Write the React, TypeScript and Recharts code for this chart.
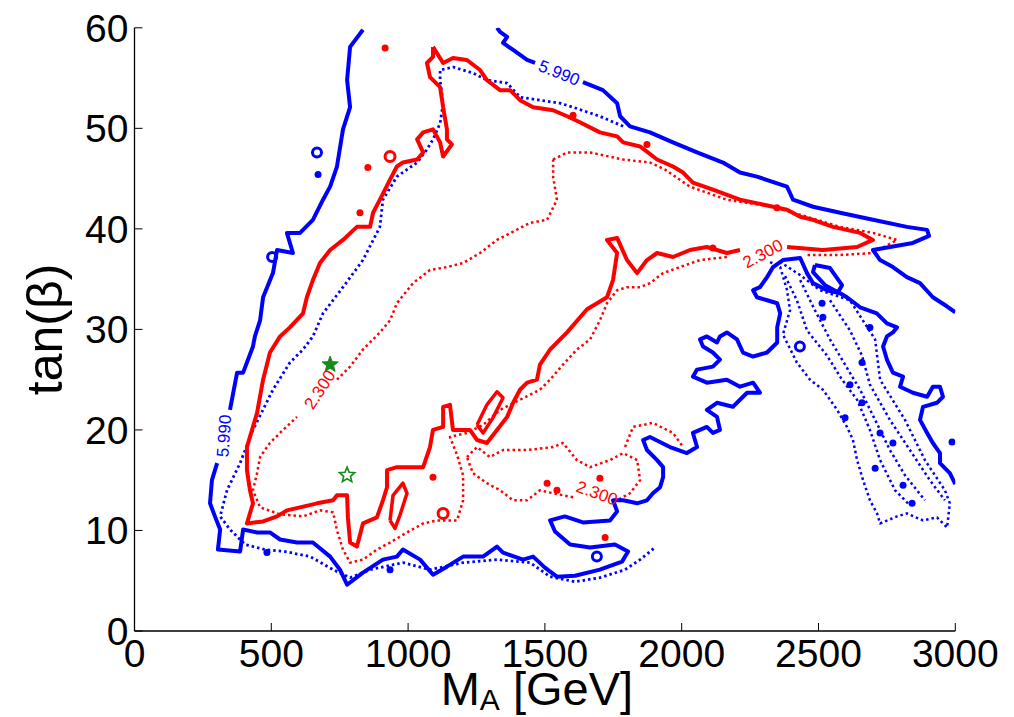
import React from 'react';
import { ComposedChart, Line, Scatter, XAxis, YAxis, ReferenceDot } from 'recharts';

const BLUE = '#0000ff';
const RED = '#ff0000';
const GREEN = '#178a17';
const FONT = '"Liberation Sans", Arial, Helvetica, sans-serif';

const xTicks = [0, 500, 1000, 1500, 2000, 2500, 3000];
const yTicks = [0, 10, 20, 30, 40, 50, 60];

// contour traces in (M_A [GeV], tan beta); null y = gap left for a contour label
const blueOuter = [
  [835, 59.8], [788, 58.1], [777, 54.8], [788, 52.1], [762, 49.9], [740, 46.2], [715, 44.2], [689, 42.9],
  [652, 40.9], [605, 39.6], [557, 39.6], [579, 37.6], [521, 37.9], [506, 35.6], [470, 33.2], [459, 30.9],
  [440, 29.3], [433, 28.3], [397, 25.7], [375, 25.7], [349, 22.0], [330, null], [302, 16.7], [283, 15.0],
  [276, 12.7], [294, 11.4], [313, 10.1], [305, 8.1], [386, 7.9], [397, 10.1], [448, 9.8], [495, 9.8],
  [532, 9.1], [594, 8.8], [652, 8.8], [715, 7.4], [751, 6.1], [777, 4.6], [835, 5.8], [908, 7.1],
  [959, 7.4], [981, 8.1], [1044, 7.1], [1091, 5.6], [1142, 6.4], [1201, 7.4], [1274, 7.4], [1325, 8.4],
  [1347, 7.8], [1420, 7.1], [1457, 7.4], [1500, 6.3], [1544, 5.4], [1610, 5.5], [1701, 6.1], [1782, 6.9],
  [1804, 7.9], [1756, 8.6], [1665, 8.3], [1592, 8.6], [1537, 9.9], [1519, 11.0], [1573, 11.4], [1639, 10.8],
  [1738, 11.0], [1764, 11.9], [1749, 13.0], [1786, 13.0], [1837, 12.7], [1873, 13.0], [1895, 13.7], [1921, 14.3],
  [1932, 15.3], [1932, 16.3], [1910, 17.0], [1873, 18.0], [1859, 19.0], [1884, 19.3], [1957, 18.3], [2019, 17.7],
  [2056, 18.3], [2041, 19.7], [2092, 20.3], [2114, 19.7], [2140, 20.0], [2129, 21.3], [2092, 22.0], [2129, 22.7],
  [2187, 22.3], [2213, 23.0], [2239, 23.7], [2286, 23.7], [2261, 24.7], [2213, 24.3], [2165, 25.0], [2092, 24.7],
  [2041, 25.3], [2056, 26.0], [2114, 26.3], [2140, 27.0], [2114, 27.7], [2078, 28.3], [2067, 29.0], [2092, 29.3],
  [2129, 28.7], [2140, 29.3], [2165, 29.7], [2202, 29.0], [2224, 27.7], [2261, 27.3], [2312, 27.7], [2349, 28.7],
  [2349, 30.2], [2360, 31.6], [2349, 32.6], [2312, 32.9], [2275, 33.2], [2261, 33.9], [2286, 34.2], [2312, 35.2],
  [2334, 36.2], [2370, 36.9], [2433, 37.1], [2458, 35.6], [2480, 34.6], [2531, 33.9], [2579, 33.6], [2604, 33.2],
  [2652, 32.2], [2713, 31.6], [2750, 30.6], [2787, 30.2], [2772, 29.7], [2750, 29.3], [2736, 28.3], [2750, 27.0],
  [2772, 25.7], [2809, 25.3], [2798, 24.3], [2845, 23.7], [2897, 23.3], [2918, 24.3], [2944, 24.3], [2955, 23.3],
  [2933, 22.7], [2882, 22.3], [2871, 21.0], [2897, 19.7], [2918, 18.7], [2944, 17.7], [2944, 16.7], [2980, 15.7],
  [3000, 14.6],
];

const blueTop = [
  [1325, 60.0], [1336, 59.6], [1362, 59.1], [1347, 58.5], [1384, 57.8], [1435, 56.8], [1464, 56.5], [1550, null],
  [1639, 54.6], [1712, 53.8], [1764, 52.5], [1775, 51.2], [1811, 50.2], [1884, 49.6], [1968, 48.6], [2056, 47.6],
  [2151, 46.6], [2213, 45.6], [2275, 45.2], [2385, 44.2], [2407, 42.9], [2480, 42.2], [2579, 41.6], [2699, 40.9],
  [2823, 40.2], [2897, 39.9], [2904, 39.3], [2845, 38.6], [2699, 37.9], [2725, 36.9], [2772, 36.2], [2823, 35.2],
  [2871, 34.6], [2918, 33.2], [2969, 32.3], [3000, 31.7],
];

const blueLoop = [[2487, 36.4], [2542, 36.1], [2586, 34.4], [2571, 33.7], [2524, 34.4], [2480, 35.7], [2487, 36.4]];

const blueDotted = [
  [1786, 50.2], [1701, 51.2], [1603, 52.1], [1555, 52.5], [1482, 52.8], [1409, 53.1], [1362, 54.5], [1288, 54.8],
  [1237, 55.5], [1164, 56.1], [1117, 55.8], [1117, 54.8], [1128, 52.5], [1117, 50.5], [1091, 48.9], [1069, 47.9],
  [1033, 46.6], [959, 45.2], [908, 42.9], [897, 40.2], [835, 36.9], [762, 34.2], [689, 31.6], [652, 29.3],
  [616, 28.0], [568, 26.7], [506, 24.0], [433, 20.0], [386, 16.7], [338, 14.0], [313, 11.4], [349, 10.1],
  [404, 8.6], [477, 8.1], [550, 7.9], [642, 7.4], [726, 6.1], [788, 5.3], [861, 6.1], [981, 6.8],
  [1080, 6.1], [1201, 6.8], [1325, 7.1], [1446, 6.8], [1519, 5.4], [1610, 4.9], [1701, 5.3], [1793, 6.1],
  [1848, 7.1], [1902, 8.3],
];

const blueCloud = [
  [2323, 36.7], [2360, 36.2], [2385, 33.9], [2396, 31.9], [2370, 29.5], [2421, 26.7], [2469, 25.0], [2516, 24.0],
  [2568, 22.0], [2604, 20.3], [2626, 19.0], [2641, 17.0], [2663, 15.0], [2688, 13.0], [2714, 11.7], [2725, 10.7],
  [2787, 11.4], [2823, 11.7], [2882, 11.0], [2933, 11.3], [2970, 10.3], [2980, 12.7], [2962, 14.0], [2889, 17.0],
  [2816, 21.0], [2725, 25.0], [2707, 29.0], [2615, 32.9], [2505, 33.9], [2433, 35.4], [2360, 36.7],
];
const blueCloudMid = [
  [2433, 34.9], [2487, 31.9], [2542, 29.0], [2597, 26.5], [2652, 24.0], [2707, 21.0], [2761, 18.0], [2816, 15.5], [2889, 13.0],
];
const blueCloudLeft = [
  [2378, 35.3], [2421, 32.9], [2458, 29.9], [2531, 27.4], [2586, 25.0], [2641, 23.0], [2688, 20.0], [2725, 17.0], [2780, 14.0], [2834, 12.5],
];
const blueCloudRight = [
  [2542, 32.9], [2615, 29.9], [2659, 27.4], [2688, 24.5], [2761, 21.0], [2834, 18.0], [2907, 15.0], [2962, 13.0],
];

const redOuter = [
  [1091, 58.1], [1091, 57.1], [1069, 56.5], [1080, 55.1], [1117, 54.1], [1128, 52.1], [1142, 49.9], [1142, 48.9],
  [1160, 48.4], [1128, 47.2], [1117, 48.6], [1091, 49.9], [1055, 49.6], [1033, 48.9], [1055, 47.6], [1033, 46.9],
  [981, 46.6], [959, 46.2], [934, 44.9], [897, 42.9], [872, 41.6], [861, 40.2], [813, 40.2], [762, 38.9],
  [715, 37.9], [678, 36.6], [652, 34.9], [630, 33.2], [616, 31.6], [568, 30.2], [532, 29.3], [495, 27.7],
  [470, 25.0], [448, 21.7], [411, 18.3], [411, 16.0], [422, 14.0], [433, 12.7], [422, 11.7], [411, 10.7],
  [470, 10.9], [521, 11.4], [557, 12.0], [605, 12.3], [667, 12.7], [726, 13.0], [740, 13.5], [777, 13.5],
  [780, 11.3], [788, 8.8], [813, 8.4], [835, 10.7], [886, 11.3], [908, 13.0], [923, 14.3], [923, 16.0],
  [959, 16.3], [1007, 16.3], [1055, 16.3], [1080, 18.3], [1091, 20.0], [1128, 20.3], [1128, 22.3], [1153, 22.5],
  [1164, 20.0], [1226, 20.0], [1252, 19.0], [1288, 18.7], [1325, 20.0], [1362, 21.3], [1384, 22.7], [1409, 24.0],
  [1435, 24.7], [1471, 25.0], [1482, 26.5], [1519, 28.0], [1581, 29.7], [1654, 32.0], [1727, 33.2], [1749, 34.9],
  [1764, 37.6], [1727, 38.9], [1764, 39.1], [1800, 36.9], [1837, 35.6], [1873, 36.9], [1910, 37.6], [1968, 37.2],
  [2030, 37.9], [2092, 38.2], [2165, 37.6], [2213, 37.9], [2300, null], [2385, 38.2], [2516, 37.9], [2641, 38.2],
  [2699, 38.9], [2652, 39.6], [2553, 40.2], [2480, 40.9], [2433, 41.2], [2385, 41.9], [2334, 42.2], [2213, 42.9],
  [2114, 43.9], [2041, 44.6], [2005, 45.6], [1968, 46.2], [1910, 46.9], [1848, 48.2], [1786, 48.6], [1764, 49.2],
  [1701, 49.6], [1628, 50.6], [1581, 51.2], [1530, 51.8], [1457, 52.1], [1409, 52.8], [1373, 53.8], [1336, 53.8],
  [1288, 54.8], [1263, 55.8], [1215, 56.8], [1164, 57.0], [1128, 56.5], [1091, 58.1],
];

const redLoopA = [[1252, 20.5], [1288, 22.5], [1325, 23.8], [1347, 23.2], [1310, 21.2], [1274, 19.7], [1252, 20.5]];
const redLoopB = [[934, 11.0], [945, 13.5], [981, 14.7], [996, 13.7], [970, 11.5], [952, 10.2], [934, 11.0]];

const redDotted = [
  [1530, 46.9], [1581, 47.6], [1665, 47.6], [1786, 46.9], [1884, 46.6], [1939, 45.9], [2030, 44.2], [2165, 42.9],
  [2334, 42.2], [2458, 41.2], [2579, 40.2], [2699, 39.6], [2787, 38.9], [2699, 37.6], [2579, 37.4], [2458, 37.4],
  [2300, null], [2165, 37.2], [2067, 36.9], [1994, 36.2], [1932, 35.6], [1884, 34.6], [1848, 34.2], [1800, 34.2],
  [1764, 33.9], [1727, 32.6], [1701, 30.9], [1665, 29.0], [1617, 28.0], [1566, 26.5], [1519, 25.0], [1482, 24.0],
  [1409, 23.0], [1336, 22.0], [1274, 20.5], [1215, 19.7], [1153, 19.3], [1179, 17.5], [1201, 15.5], [1201, 13.0],
  [1179, 11.0], [1106, 11.0], [1055, 10.7], [996, 9.8], [934, 8.8], [886, 8.1], [835, 7.1], [788, 6.8],
  [762, 8.1], [740, 10.0], [726, 11.8], [678, 12.0], [616, 11.4], [532, 11.6], [459, 12.3], [433, 14.0],
  [448, 15.7], [459, 17.3], [495, 18.7], [543, 20.0], [594, 21.3], [680, null], [740, 25.0], [788, 26.3],
  [835, 28.0], [897, 29.7], [934, 30.9], [959, 32.6], [1018, 34.6], [1080, 35.9], [1142, 36.2], [1201, 36.6],
  [1263, 37.6], [1325, 38.9], [1446, 40.6], [1508, 40.9], [1544, 42.9], [1530, 45.2], [1530, 46.9],
];

const redDottedLobe = [
  [1215, 17.3], [1252, 18.3], [1299, 17.3], [1347, 18.0], [1435, 18.0], [1530, 18.3], [1566, 18.7], [1617, 17.0],
  [1665, 16.3], [1738, 17.0], [1786, 17.7], [1837, 17.0], [1848, 15.0], [1811, 13.7], [1764, 13.0], [1700, null],
  [1603, 13.3], [1530, 13.7], [1482, 14.0], [1435, 13.0], [1384, 13.0], [1336, 14.0], [1288, 14.7], [1237, 15.7],
  [1215, 17.3],
];
const redDottedBit = [[1793, 18.3], [1822, 20.3], [1895, 20.7], [1968, 19.7], [2005, 18.3]];

const redSpots = [
  [916, 58.0], [853, 46.1], [824, 41.6], [1603, 51.3], [1873, 48.4], [2348, 42.1], [2114, 38.1],
  [1091, 15.3], [1508, 14.7], [1544, 14.0], [1701, 15.2], [1720, 9.3],
];
const redRings = [[934, 47.2], [1128, 11.7]];
const blueRings = [[667, 47.6], [503, 37.2], [2432, 28.3], [1690, 7.4]];
const blueSpots = [
  [671, 45.4], [484, 7.8], [934, 6.1], [2513, 32.6], [2516, 31.2], [2615, 24.5], [2659, 26.7], [2688, 30.2],
  [2659, 22.7], [2597, 21.2], [2725, 19.7], [2772, 18.7], [2707, 16.2], [2809, 14.5], [2842, 12.7], [2988, 18.8],
];

const bestFit = [[715, 26.5]];
const benchmark = [[777, 15.5]];

const contourLabels = [
  { x: 328, y: 19.4, text: '5.990', angle: -86, color: BLUE },
  { x: 1552, y: 55.5, text: '5.990', angle: 22, color: BLUE },
  { x: 2297, y: 37.5, text: '2.300', angle: -28, color: RED },
  { x: 678, y: 24.0, text: '2.300', angle: -57, color: RED },
  { x: 1690, y: 13.7, text: '2.300', angle: 20, color: RED },
];

const pts = (a: (number | null)[][]) => a.map(([x, y]) => ({ x, y }));

const lines = [
  { id: 'blueCloud', data: blueCloud, color: BLUE, width: 2.5, dash: '2.5 3' },
  { id: 'blueCloudMid', data: blueCloudMid, color: BLUE, width: 2.5, dash: '2.5 3' },
  { id: 'blueCloudLeft', data: blueCloudLeft, color: BLUE, width: 2.5, dash: '2.5 3' },
  { id: 'blueCloudRight', data: blueCloudRight, color: BLUE, width: 2.5, dash: '2.5 3' },
  { id: 'blueDotted', data: blueDotted, color: BLUE, width: 2.8, dash: '2.5 3' },
  { id: 'redDotted', data: redDotted, color: RED, width: 2.5, dash: '2.5 3' },
  { id: 'redDottedLobe', data: redDottedLobe, color: RED, width: 2.5, dash: '2.5 3' },
  { id: 'redDottedBit', data: redDottedBit, color: RED, width: 2.5, dash: '2.5 3' },
  { id: 'blueOuter', data: blueOuter, color: BLUE, width: 4 },
  { id: 'blueTop', data: blueTop, color: BLUE, width: 4 },
  { id: 'blueLoop', data: blueLoop, color: BLUE, width: 4 },
  { id: 'redOuter', data: redOuter, color: RED, width: 4 },
  { id: 'redLoopA', data: redLoopA, color: RED, width: 3.5 },
  { id: 'redLoopB', data: redLoopB, color: RED, width: 3.5 },
];

function starPath(cx: number, cy: number, R: number, r: number) {
  let d = '';
  for (let i = 0; i < 10; i++) {
    const a = ((-90 + i * 36) * Math.PI) / 180;
    const rad = i % 2 === 0 ? R : r;
    d += (i === 0 ? 'M' : 'L') + (cx + rad * Math.cos(a)).toFixed(2) + ',' + (cy + rad * Math.sin(a)).toFixed(2);
  }
  return d + 'Z';
}

const XTitle = (props: any) => {
  const vb = props.viewBox;
  return (
    <text x={vb.x + vb.width / 2 - 8} y={vb.y + 74} textAnchor="middle" fontFamily={FONT} fontSize={47} fill="#000">
      M<tspan fontSize={30} dy={5}>A</tspan>
      <tspan dy={-5}> [GeV]</tspan>
    </text>
  );
};

const YTitle = (props: any) => {
  const vb = props.viewBox;
  const x = vb.x + 8;
  const y = vb.y + vb.height / 2;
  return (
    <text x={x} y={y} transform={`rotate(-90 ${x} ${y})`} textAnchor="middle" fontFamily={FONT} fontSize={50} fill="#000">
      tan(β)
    </text>
  );
};

export default function App() {
  const tickStyle = { fontSize: 39, fill: '#000', fontFamily: FONT };
  const axisLine = { stroke: '#000', strokeWidth: 1.3 };
  return (
    <div style={{ width: 1014, height: 717, marginLeft: -8, marginTop: -8 }}>
      <ComposedChart width={1014} height={717} margin={{ top: 27.8, right: 58.7, bottom: 36, left: 54.5 }}>
        <XAxis
          dataKey="x"
          type="number"
          domain={[0, 3000]}
          ticks={xTicks}
          interval={0}
          height={50}
          tickSize={-8}
          tickMargin={16}
          axisLine={axisLine}
          tickLine={{ stroke: '#000' }}
          tick={tickStyle}
          allowDataOverflow
          label={{ content: XTitle }}
        />
        <XAxis
          xAxisId="top"
          orientation="top"
          type="number"
          domain={[0, 3000]}
          ticks={xTicks}
          interval={0}
          height={0}
          tickSize={-8}
          axisLine={axisLine}
          tickLine={{ stroke: '#000' }}
          tick={false}
          allowDataOverflow
        />
        <YAxis
          dataKey="y"
          type="number"
          domain={[0, 60]}
          ticks={yTicks}
          interval={0}
          width={80}
          tickSize={-8}
          tickMargin={14}
          axisLine={axisLine}
          tickLine={{ stroke: '#000' }}
          tick={tickStyle}
          allowDataOverflow
          label={{ content: YTitle }}
        />
        <YAxis
          yAxisId="right"
          orientation="right"
          type="number"
          domain={[0, 60]}
          ticks={yTicks}
          interval={0}
          width={0}
          tickSize={-8}
          axisLine={axisLine}
          tickLine={{ stroke: '#000' }}
          tick={false}
          allowDataOverflow
        />
        {lines.map((s) => (
          <Line
            key={s.id}
            data={pts(s.data)}
            dataKey="y"
            type="linear"
            stroke={s.color}
            strokeWidth={s.width}
            strokeDasharray={s.dash}
            strokeLinejoin="round"
            dot={false}
            activeDot={false}
            connectNulls={false}
            isAnimationActive={false}
          />
        ))}
        <Scatter
          data={pts(blueSpots)}
          isAnimationActive={false}
          shape={(p: any) => <circle cx={p.cx} cy={p.cy} r={3.5} fill={BLUE} />}
        />
        <Scatter
          data={pts(blueRings)}
          isAnimationActive={false}
          shape={(p: any) => <circle cx={p.cx} cy={p.cy} r={4.5} fill="none" stroke={BLUE} strokeWidth={3} />}
        />
        <Scatter
          data={pts(redSpots)}
          isAnimationActive={false}
          shape={(p: any) => <circle cx={p.cx} cy={p.cy} r={3.5} fill={RED} />}
        />
        <Scatter
          data={pts(redRings)}
          isAnimationActive={false}
          shape={(p: any) => <circle cx={p.cx} cy={p.cy} r={5} fill="none" stroke={RED} strokeWidth={3} />}
        />
        <Scatter
          data={pts(bestFit)}
          isAnimationActive={false}
          shape={(p: any) => <path d={starPath(p.cx, p.cy, 8.5, 3.6)} fill={GREEN} stroke={GREEN} strokeWidth={1} />}
        />
        <Scatter
          data={pts(benchmark)}
          isAnimationActive={false}
          shape={(p: any) => <path d={starPath(p.cx, p.cy, 8, 3.6)} fill="#fff" stroke={GREEN} strokeWidth={1.6} />}
        />
        {contourLabels.map((l) => (
          <ReferenceDot
            key={l.text + l.x}
            x={l.x}
            y={l.y}
            r={0}
            ifOverflow="visible"
            shape={(p: any) => (
              <text
                x={p.cx}
                y={p.cy}
                transform={`rotate(${l.angle} ${p.cx} ${p.cy})`}
                textAnchor="middle"
                dominantBaseline="central"
                fontFamily={FONT}
                fontSize={17}
                fill={l.color}
              >
                {l.text}
              </text>
            )}
          />
        ))}
      </ComposedChart>
    </div>
  );
}
